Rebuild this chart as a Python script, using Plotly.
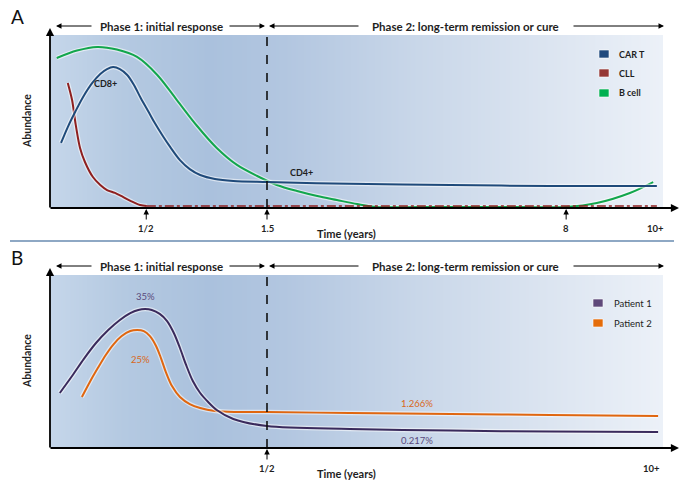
import plotly.graph_objects as go

W, H = 683, 485

# ---------------- Panel A data (schematic time position 0-100, abundance 0-100) -------------
cart_x = [1.8, 2.9, 4.1, 5.4, 6.9, 8.2, 9.3, 10.3, 11.4, 12.6, 13.7, 14.8, 16.0, 17.1, 18.3, 19.6,
          21.2, 22.8, 24.5, 26.9, 29.9, 35.4, 48.9, 65.3, 81.6, 99.0]
cart_y = [37.6, 46.8, 55.5, 64.2, 72.3, 77.5, 80.3, 81.5, 80.3, 76.9, 71.1, 63.6, 56.1, 49.1, 42.2, 35.3,
          27.7, 22.5, 19.1, 16.8, 15.6, 15.0, 14.0, 13.3, 12.7, 12.7]

cll_x = [2.9, 3.6, 4.2, 4.9, 5.7, 7.0, 8.2, 9.3, 10.6, 11.9, 13.2, 14.7, 15.8]
cll_y = [72.3, 62.4, 48.0, 34.7, 26.6, 17.9, 13.3, 10.4, 8.7, 6.4, 4.0, 1.7, 1.2]
cll_tail_x = [15.8, 99.0]
cll_tail_y = [1.2, 1.2]

bcell_x = [1.1, 4.4, 7.7, 10.9, 14.2, 17.5, 20.7, 24.0, 27.2, 30.5, 33.8, 37.0, 40.3, 43.6, 46.8, 50.1,
           53.3, 60.4, 68.5, 76.7, 84.2, 89.2, 94.6, 98.4]
bcell_y = [86.7, 91.0, 93.1, 91.6, 87.3, 76.9, 62.4, 47.4, 34.7, 24.9, 18.5, 13.3, 9.8, 6.9, 4.6, 2.3,
           0.6, 0.6, 0.6, 0.6, 0.6, 2.9, 8.7, 15.0]

a_names = ["CAR T", "CLL", "B cell"]
a_colors = ["#1f4a7a", "#8e1f1f", "#12a64c"]
a_legend_colors = ["#1f497d", "#953735", "#00b050"]

a_tick_vals = [15.7, 35.4, 84.2]
a_tick_text = ["1/2", "1.5", "8"]
a_end_val = 98.7
a_end_text = "10+"
a_phase_split = 35.4

a_labels = ["CD8+", "CD4+"]
a_label_x = [9.0, 41.1]
a_label_y = [71.7, 20.8]

# ---------------- Panel B data ----------------
p1_x = [1.6, 3.6, 5.5, 7.5, 9.5, 11.4, 13.1, 14.4, 15.5, 16.6, 17.9, 19.1, 20.2, 21.2, 22.2, 23.3,
        24.5, 25.8, 27.2, 29.9, 35.4, 48.9, 65.3, 81.6, 99.2]
p1_y = [31.8, 41.6, 51.4, 60.7, 68.2, 74.0, 78.0, 79.8, 80.3, 79.8, 77.5, 73.4, 66.5, 57.8, 48.0, 38.7,
        31.8, 26.6, 22.0, 16.8, 12.7, 11.0, 10.1, 9.5, 9.2]

p2_x = [5.2, 6.5, 7.8, 9.1, 10.4, 11.7, 13.1, 14.2, 15.3, 16.3, 17.3, 18.1, 18.9, 19.9, 21.2, 22.8,
        24.5, 26.9, 30.2, 35.4, 48.9, 65.3, 81.6, 99.2]
p2_y = [29.5, 38.2, 46.2, 53.8, 60.1, 64.7, 67.6, 68.2, 67.6, 64.7, 59.0, 52.0, 43.9, 35.8, 29.5, 25.4,
        23.1, 21.4, 20.8, 20.8, 20.2, 19.7, 19.1, 18.5]

b_names = ["Patient 1", "Patient 2"]
b_colors = ["#3a2a5c", "#e0660f"]
b_legend_colors = ["#5f497a", "#e46c0a"]

b_tick_vals = [35.4]
b_tick_text = ["1/2"]
b_end_val = 98.2
b_end_text = "10+"
b_phase_split = 35.4

b_labels = ["35%", "25%", "1.266%", "0.217%"]
b_label_x = [15.5, 14.7, 59.9, 59.9]
b_label_y = [87.3, 50.9, 26.0, 4.6]
b_label_colors = ["#5a4a7c", "#d9671a", "#d9671a", "#5a4a7c"]

phase_text = ["Phase 1: initial response", "Phase 2: long-term remission or cure"]
x_title = "Time (years)"
y_title = "Abundance"

FONT = "Lato, 'Open Sans', sans-serif"
TXT = "#1e1e1e"

# ---------------- helpers ----------------
def px(x):
    return x / W

def py(y):
    return 1 - y / H

bg_scale = [[0.0, "#c5d6ea"], [0.12, "#b4c9e1"], [0.26, "#aac1dd"], [0.38, "#b2c6e0"],
            [0.6, "#c9d7e9"], [0.85, "#dfe7f2"], [1.0, "#ecf1f8"]]

fig = go.Figure()

def add_bg(xa, ya):
    fig.add_trace(go.Heatmap(x=[0, 25, 50, 75, 100], y=[0, 100],
                             z=[[0, 0.25, 0.5, 0.75, 1.0], [0, 0.25, 0.5, 0.75, 1.0]],
                             zmin=0, zmax=1, zsmooth="best", colorscale=bg_scale,
                             showscale=False, hoverinfo="skip", xaxis=xa, yaxis=ya))

def add_line(x, y, color, xa, ya, dash="solid", glow=True, width=2.0):
    if glow:
        fig.add_trace(go.Scatter(x=x, y=y, mode="lines", xaxis=xa, yaxis=ya,
                                 line=dict(color="rgba(255,255,255,0.55)", width=4.5,
                                           shape="spline", smoothing=0.9, dash=dash),
                                 hoverinfo="skip", showlegend=False))
    fig.add_trace(go.Scatter(x=x, y=y, mode="lines", xaxis=xa, yaxis=ya,
                             line=dict(color=color, width=width, shape="spline", smoothing=0.9, dash=dash),
                             hoverinfo="skip", showlegend=False))

add_bg("x", "y")
add_bg("x2", "y2")

add_line(bcell_x, bcell_y, a_colors[2], "x", "y")
add_line(cll_tail_x, cll_tail_y, a_colors[1], "x", "y", dash="dashdot", glow=False, width=1.5)
add_line(cll_x, cll_y, a_colors[1], "x", "y")
add_line(cart_x, cart_y, a_colors[0], "x", "y")

add_line(p2_x, p2_y, b_colors[1], "x2", "y2")
add_line(p1_x, p1_y, b_colors[0], "x2", "y2")

annotations = []
shapes = []

def arrow(tx, ty, fx, fy, width=1.0, size=1.0):
    annotations.append(dict(x=px(tx), y=py(ty), xref="paper", yref="paper",
                            ax=fx - tx, ay=fy - ty, axref="pixel", ayref="pixel",
                            text="", showarrow=True, arrowhead=2, arrowsize=size,
                            arrowwidth=width, arrowcolor="#000000", standoff=0, startstandoff=0))

def text(x, y, s, size=10, color=TXT, bold=True, xanchor="center", xref="paper", yref="paper", angle=0):
    annotations.append(dict(x=x, y=y, xref=xref, yref=yref, text=("<b>%s</b>" % s) if bold else s,
                            showarrow=False, xanchor=xanchor, yanchor="middle", textangle=angle,
                            font=dict(family=FONT, size=size, color=color)))

def panel(off, xa, ya, ticks_v, ticks_t, end_v, end_t, split, letter):
    text(px(17), py(17 + off), letter, size=19, bold=False, color="#111111")
    ypos = 26 + off
    arrow(56, ypos, 93, ypos, 1.0, 1.1)
    arrow(265, ypos, 228, ypos, 1.0, 1.1)
    arrow(269, ypos, 360, ypos, 1.0, 1.1)
    arrow(664, ypos, 572, ypos, 1.0, 1.1)
    text(px(161), py(ypos), phase_text[0], size=11.5)
    text(px(465), py(ypos), phase_text[1], size=11.5)
    arrow(679, 208 + off, 49, 208 + off, 1.8, 0.9)
    arrow(50, 28 + off, 50, 209 + off, 1.8, 0.9)
    shapes.append(dict(type="line", xref=xa, yref=ya, x0=split, x1=split, y0=0, y1=100,
                       line=dict(color="#111111", width=1.6, dash="dash")))
    for v, t in zip(ticks_v, ticks_t):
        annotations.append(dict(x=v, y=0, xref=xa, yref=ya, ax=0, ay=13, text="", showarrow=True,
                                arrowhead=2, arrowsize=1.1, arrowwidth=1.0, arrowcolor="#000000",
                                standoff=1))
        text(v, py(228 + off), t, size=9.5, xref=xa)
    text(end_v, py(228 + off), end_t, size=9.5, xref=xa)
    text(px(346), py(233 + off), x_title, size=11)
    text(px(27), py(121 + off), y_title, size=10.5, angle=-90)

panel(0, "x", "y", a_tick_vals, a_tick_text, a_end_val, a_end_text, a_phase_split, "A")
panel(240, "x2", "y2", b_tick_vals, b_tick_text, b_end_val, b_end_text, b_phase_split, "B")

for s, x, y in zip(a_labels, a_label_x, a_label_y):
    text(x, y, s, size=9, xref="x", yref="y")
for s, x, y, c in zip(b_labels, b_label_x, b_label_y, b_label_colors):
    text(x, y, s, size=9.5, color=c, bold=False, xref="x2", yref="y2")

for i, (name, c) in enumerate(zip(a_names, a_legend_colors)):
    cy = [54, 73, 93][i]
    shapes.append(dict(type="rect", xref="paper", yref="paper", x0=px(599), x1=px(609),
                       y0=py(cy + 4), y1=py(cy - 4), fillcolor=c, line=dict(color="#ffffff", width=0.6)))
    text(px(617), py(cy), name, size=9, xanchor="left")
for i, (name, c) in enumerate(zip(b_names, b_legend_colors)):
    cy = [303, 323][i]
    shapes.append(dict(type="rect", xref="paper", yref="paper", x0=px(593), x1=px(603),
                       y0=py(cy + 4), y1=py(cy - 4), fillcolor=c, line=dict(color="#ffffff", width=0.6)))
    text(px(612), py(cy), name, size=9.5, xanchor="left", bold=False, color="#222222")

shapes.append(dict(type="line", xref="paper", yref="paper", x0=px(10), x1=px(674), y0=py(241), y1=py(241),
                   line=dict(color="#8ea8c4", width=2)))

ax_common = dict(visible=False, range=[0, 100], fixedrange=True)
fig.update_layout(
    width=W, height=H, margin=dict(l=0, r=0, t=0, b=0),
    paper_bgcolor="#ffffff", plot_bgcolor="rgba(0,0,0,0)",
    showlegend=False,
    xaxis=dict(domain=[px(50), px(663)], anchor="y", **ax_common),
    yaxis=dict(domain=[py(208), py(35)], anchor="x", **ax_common),
    xaxis2=dict(domain=[px(50), px(663)], anchor="y2", **ax_common),
    yaxis2=dict(domain=[py(448), py(275)], anchor="x2", **ax_common),
    annotations=annotations, shapes=shapes,
)

fig.write_html("out.html", config={"displayModeBar": False, "staticPlot": True},
               post_script="document.body.style.margin='0';document.body.style.padding='0';")
